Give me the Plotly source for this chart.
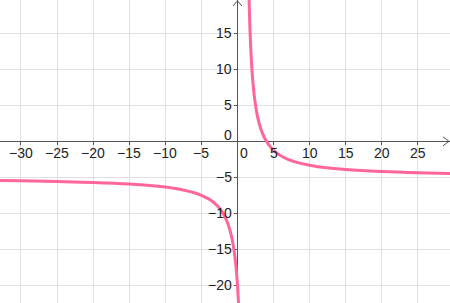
import plotly.graph_objects as go

# Left branch of the curve
left_x = [-33, -30, -25, -20, -15, -10, -8, -7, -6, -5, -4, -3.5, -3, -2.5, -2, -1.5, -1, -0.75, -0.5, -0.25, 0, 0.15]
left_y = [-5.44, -5.48, -5.58, -5.71, -5.94, -6.36, -6.67, -6.88, -7.14, -7.5, -8, -8.33, -8.75, -9.29, -10, -11, -12.5, -13.57, -15, -17, -20, -22.65]

# Right branch of the curve
right_x = [1.6, 1.75, 2, 2.25, 2.5, 2.75, 3, 3.5, 4, 4.5, 5, 6, 7, 8, 10, 12, 15, 20, 25, 30]
right_y = [20, 15, 10, 7, 5, 3.57, 2.5, 1, 0, -0.71, -1.25, -2, -2.5, -2.86, -3.33, -3.64, -3.93, -4.21, -4.38, -4.48]

x_ticks = [-30, -25, -20, -15, -10, -5, 5, 10, 15, 20, 25]
y_ticks = [-20, -15, -10, -5, 5, 10, 15]

X_RANGE = [-32.90, 29.44]
Y_RANGE = [-22.46, 19.63]
W, H = 450, 303

CURVE = "#ff6699"
AXIS = "#555555"
GRID = "#e0e0e0"
TXT = "#222222"
FONT = dict(family="Liberation Sans, Arial, sans-serif", size=14, color=TXT)

fig = go.Figure()
for xs, ys in [(left_x, left_y), (right_x, right_y)]:
    fig.add_trace(go.Scatter(x=xs, y=ys, mode="lines",
                             line=dict(color=CURVE, width=3, shape="spline", smoothing=1.0),
                             hoverinfo="skip", showlegend=False, cliponaxis=True))

xpos = (0 - Y_RANGE[0]) / (Y_RANGE[1] - Y_RANGE[0])
ypos = (0 - X_RANGE[0]) / (X_RANGE[1] - X_RANGE[0])

fig.update_layout(
    width=W, height=H, margin=dict(l=0, r=0, t=0, b=0),
    paper_bgcolor="white", plot_bgcolor="white",
    xaxis=dict(range=X_RANGE, dtick=5, tick0=0, showgrid=True, gridcolor=GRID, gridwidth=1,
               zeroline=False, showline=True, linecolor=AXIS, linewidth=1,
               anchor="free", position=xpos, ticks="outside", ticklen=3, tickcolor=AXIS,
               showticklabels=False, layer="below traces", fixedrange=True),
    yaxis=dict(range=Y_RANGE, dtick=5, tick0=0, showgrid=True, gridcolor=GRID, gridwidth=1,
               zeroline=False, showline=True, linecolor=AXIS, linewidth=1,
               anchor="free", position=ypos, ticks="outside", ticklen=3, tickcolor=AXIS,
               showticklabels=False, layer="below traces", fixedrange=True),
    showlegend=False,
)

ann = []
for v in x_ticks:
    ann.append(dict(x=v, y=0, xref="x", yref="y", text=str(v).replace("-", "\u2212"),
                    showarrow=False, yanchor="middle", xanchor="center", yshift=-12, font=FONT))
for v in y_ticks:
    ann.append(dict(x=0, y=v, xref="x", yref="y", text=str(v).replace("-", "\u2212"),
                    showarrow=False, xanchor="right", yanchor="middle", xshift=-3, font=FONT))
ann.append(dict(x=0, y=0, xref="x", yref="y", text="0", showarrow=False,
                xanchor="center", yanchor="middle", xshift=7, yshift=-12, font=FONT))
ann.append(dict(x=0, y=0, xref="x", yref="y", text="0", showarrow=False,
                xanchor="right", yanchor="middle", xshift=-3, yshift=6, font=FONT))
fig.update_layout(annotations=ann)

# Arrow chevrons at the axis ends (pixel-sized, anchored to the axis end)
ax_px = (0 - X_RANGE[0]) / (X_RANGE[1] - X_RANGE[0]) * W
ay_px = (Y_RANGE[1] - 0) / (Y_RANGE[1] - Y_RANGE[0]) * H
def px(xp, yp):
    return xp / W, 1 - yp / H
shapes = []
tip = px(449, ay_px)
for dy in (-4.5, 4.5):
    a = px(443, ay_px + dy)
    shapes.append(dict(type="line", xref="paper", yref="paper", x0=a[0], y0=a[1], x1=tip[0], y1=tip[1],
                       line=dict(color=AXIS, width=1)))
tip = px(ax_px, 0.8)
for dx in (-4.5, 4.5):
    a = px(ax_px + dx, 6)
    shapes.append(dict(type="line", xref="paper", yref="paper", x0=a[0], y0=a[1], x1=tip[0], y1=tip[1],
                       line=dict(color=AXIS, width=1)))
fig.update_layout(shapes=shapes)

fig.write_html("out.html", config={"displayModeBar": False})
